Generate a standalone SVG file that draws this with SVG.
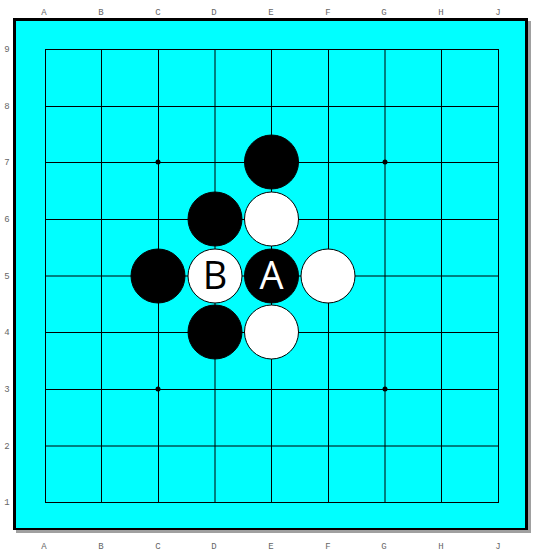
<svg xmlns="http://www.w3.org/2000/svg" width="540" height="552" viewBox="0 0 540 552">
<style>
.g{stroke:#000;stroke-width:1;fill:none}
.c{font-family:"Liberation Mono",monospace;font-size:9px;fill:#666;text-anchor:middle}
.b{fill:#000;stroke:#000;stroke-width:1}
.w{fill:#fff;stroke:#000;stroke-width:1}
.l{font-family:"Open Sans","Liberation Sans",sans-serif;font-size:38px;text-anchor:middle}
</style>
<rect x="0" y="0" width="540" height="552" fill="#fff"/>
<rect x="16" y="21" width="515" height="512" fill="#a0a0a0"/>
<rect x="13" y="18" width="515" height="512" fill="#000"/>
<rect x="16" y="21" width="509" height="507" fill="#00ffff"/>
<g id="grid">
<path class="g" d="M45 49.5H498M45 106.5H498M45 162.5H498M45 219.5H498M45 276H498M45 332.5H498M45 389.5H498M45 446H498M45 502.5H498"/>
<path class="g" d="M45.5 49V503M101.5 49V503M158.5 49V503M215 49V503M271.5 49V503M328.5 49V503M385 49V503M441.5 49V503M498.5 49V503"/>
<circle cx="158" cy="162" r="2.5"/><circle cx="385" cy="162" r="2.5"/>
<circle cx="158" cy="389" r="2.5"/><circle cx="385" cy="389" r="2.5"/>
</g>
<g id="coords">
<text class="c" x="44" y="15">A</text><text class="c" x="101" y="15">B</text><text class="c" x="158" y="15">C</text><text class="c" x="214" y="15">D</text><text class="c" x="271" y="15">E</text><text class="c" x="328" y="15">F</text><text class="c" x="384" y="15">G</text><text class="c" x="441" y="15">H</text><text class="c" x="498" y="15">J</text>
<text class="c" x="44" y="549">A</text><text class="c" x="101" y="549">B</text><text class="c" x="158" y="549">C</text><text class="c" x="214" y="549">D</text><text class="c" x="271" y="549">E</text><text class="c" x="328" y="549">F</text><text class="c" x="384" y="549">G</text><text class="c" x="441" y="549">H</text><text class="c" x="498" y="549">J</text>
<text class="c" x="7" y="52">9</text><text class="c" x="7" y="109">8</text><text class="c" x="7" y="165">7</text><text class="c" x="7" y="222">6</text><text class="c" x="7" y="279">5</text><text class="c" x="7" y="335">4</text><text class="c" x="7" y="392">3</text><text class="c" x="7" y="449">2</text><text class="c" x="7" y="505">1</text>
</g>
<g id="E7"><circle class="b" cx="271.5" cy="162" r="27"/></g>
<g id="D6"><circle class="b" cx="215" cy="219" r="27"/></g>
<g id="E6"><circle class="w" cx="271.5" cy="219" r="27"/></g>
<g id="C5"><circle class="b" cx="158" cy="276" r="27"/></g>
<g id="D5"><circle class="w" cx="215" cy="276" r="27"/><text class="l" x="215" y="289" fill="#000">B</text></g>
<g id="E5"><circle class="b" cx="271.5" cy="276" r="27"/><text class="l" x="271.5" y="289" fill="#fff">A</text></g>
<g id="F5"><circle class="w" cx="328" cy="276" r="27"/></g>
<g id="D4"><circle class="b" cx="215" cy="332" r="27"/></g>
<g id="E4"><circle class="w" cx="271.5" cy="332" r="27"/></g>
</svg>
